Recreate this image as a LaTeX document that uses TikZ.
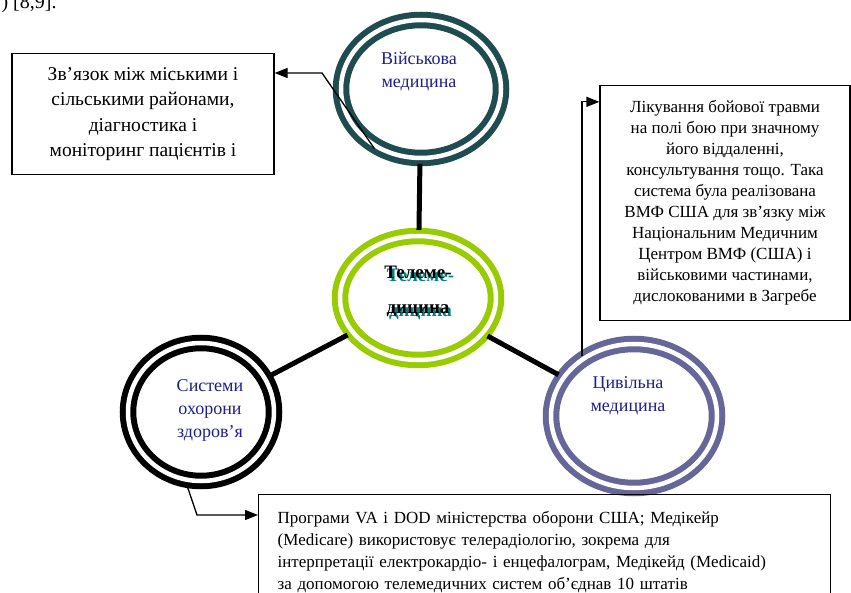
\documentclass[tikz,border=0pt]{standalone}
\usepackage{fontspec}
\setmainfont{Liberation Serif}
\usetikzlibrary{shapes.geometric,arrows.meta}

\definecolor{milcol}{RGB}{31,76,79}
\definecolor{telcol}{RGB}{153,204,0}
\definecolor{civcol}{RGB}{102,102,153}
\definecolor{lblcol}{RGB}{30,30,140}
\definecolor{shdcol}{RGB}{0,128,128}

\newcommand{\shd}[1]{\makebox[0pt][l]{\hspace{2.5pt}\raisebox{-3pt}{\color{shdcol}#1}}#1}

\tikzset{
  ring/.style={ellipse, draw=#1, line width=6pt, double=white, double distance=4.5pt},
  lbl/.style={text=lblcol, align=center, font=\fontsize{18}{23}\selectfont},
  box/.style={rectangle, draw, line width=1.3pt, align=center},
  spoke/.style={line width=5pt, shorten <=3pt, shorten >=3pt},
  link/.style={line width=1.3pt, ->},
  >={Triangle[length=13pt,width=10pt]}
}

\begin{document}
\begin{tikzpicture}[x=1pt,y=-1pt]
  \useasboundingbox (0,0) rectangle (851,593);

  \node (cite) [anchor=base west, font=\fontsize{20}{24}\selectfont] at (-2,9) {) [8,9].};

  % circles
  \node (mil) [ring=milcol, minimum width=160pt, minimum height=138pt] at (421,89) {};
  \node (tel) [ring=telcol, minimum width=156pt, minimum height=124pt] at (418,298) {};
  \node (sys) [ring=black, minimum width=146pt, minimum height=138pt] at (201,412) {};
  \node (civ) [ring=civcol, minimum width=166pt, minimum height=144pt] at (634,416) {};

  \node (miltxt) [lbl] at ([xshift=-2pt,yshift=17pt]mil.center) {Військова\\медицина};
  \node (systxt) [lbl] at ([xshift=9pt,yshift=2pt]sys.center) {Системи\\охорони\\здоров'я};
  \node (civtxt) [lbl] at ([xshift=-6pt,yshift=20pt]civ.center) {Цивільна\\медицина};
  \node (teltxt) [align=center, font=\bfseries\fontsize{19}{35}\selectfont] at ([yshift=5pt]tel.center) {\shd{Телеме-}\\\shd{дицина}};

  \draw[spoke] (mil) -- (tel);
  \draw[spoke] (tel) -- (sys);
  \draw[spoke] (tel) -- (civ);

  % boxes
  \node (leftbox) [box, minimum width=262pt, minimum height=121pt, font=\fontsize{19.5}{25.5}\selectfont] at (143,114)
    {Зв'язок між міськими і\\сільськими районами,\\діагностика і\\моніторинг пацієнтів і};
  \node (rightbox) [box, minimum width=250pt, minimum height=235pt, font=\fontsize{17}{21}\selectfont] at (725,203)
    {Лікування бойової травми\\на полі бою при значному\\його віддаленні,\\консультування тощо. Така\\система була реалізована\\ВМФ США для зв'язку між\\Національним Медичним\\Центром ВМФ (США) і\\військовими частинами,\\дислокованими в Загребе};
  \node (botbox) [box, anchor=north west, align=left, text width=534pt, inner xsep=19pt, inner ysep=17pt, font=\fontsize{17}{22}\selectfont] at (258,494)
    {Програми VA і DOD міністерства оборони США; Медікейр\\(Medicare) використовує телерадіологію, зокрема для\\інтерпретації електрокардіо- і енцефалограм, Медікейд (Medicaid)\\за допомогою телемедичних систем об'єднав 10 штатів};

  % links
  \coordinate (bendA) at (322,73);
  \coordinate (bendC) at (197,515);
  \draw[link] (mil.232) -- (bendA) -- (bendA -| leftbox.east);
  \draw[link] (civ.131) |- ([yshift=-17pt]rightbox.north west);
  \draw[link] (sys.258) -- (bendC) -- (bendC -| botbox.west);
\end{tikzpicture}
\end{document}
